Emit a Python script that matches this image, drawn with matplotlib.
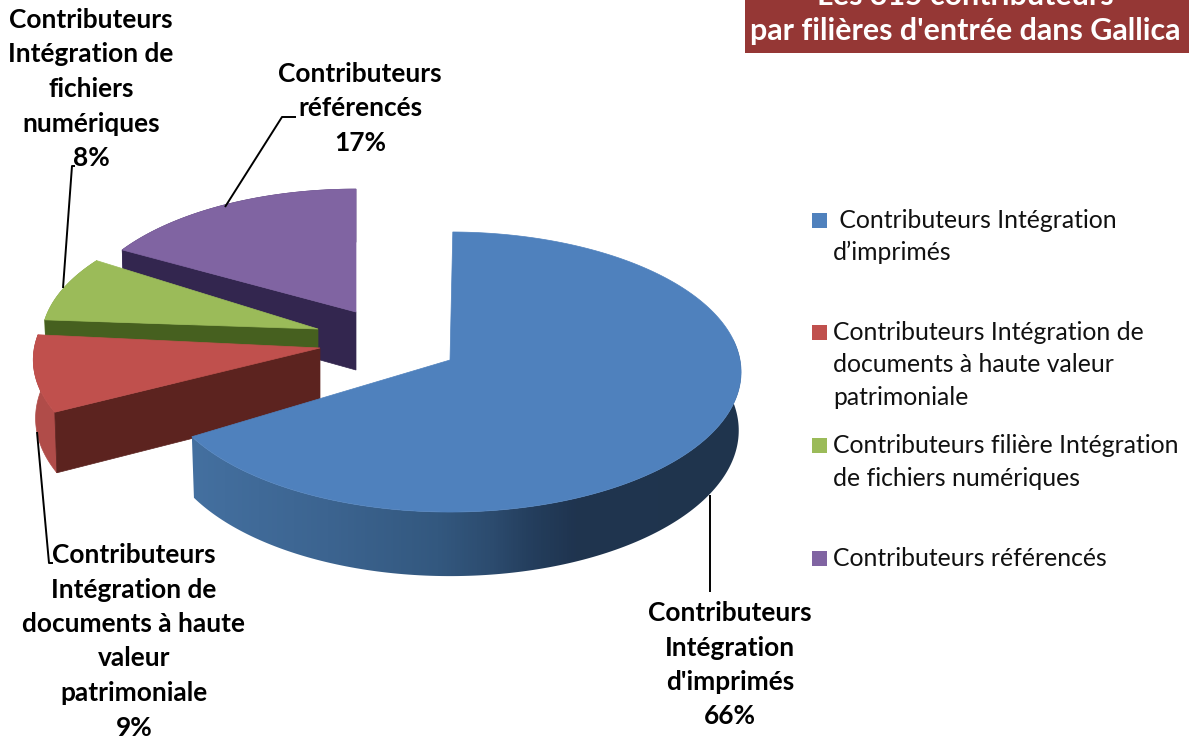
import matplotlib
matplotlib.use("Agg")
import matplotlib.pyplot as plt
import numpy as np
from matplotlib.colors import LinearSegmentedColormap
from matplotlib.patches import Polygon, Rectangle

# chart values
shares = [66, 9, 8, 17]
data_labels = [
    ["Contributeurs", "Intégration", "d'imprimés", "66%"],
    ["Contributeurs", "Intégration de", "documents à haute", "valeur", "patrimoniale", "9%"],
    ["Contributeurs", "Intégration de", "fichiers", "numériques", "8%"],
    ["Contributeurs", "référencés", "17%"],
]
legend_labels = [
    [" Contributeurs Intégration", "d’imprimés"],
    ["Contributeurs Intégration de", "documents à haute valeur", "patrimoniale"],
    ["Contributeurs filière Intégration", "de fichiers numériques"],
    ["Contributeurs référencés"],
]
title_lines = ["Les 315 contributeurs", "par filières d'entrée dans Gallica"]

# look of the slices, same order as shares
top_colors = ["#4f81bd", "#c0504d", "#9bbb59", "#8064a2"]
cut_colors = [None, "#5c231f", "#46601f", "#33264f"]
rim_colors = [None, "#b04c49", "#8aa850", "#5b4678"]
apexes = [(450, 360), (320, 348), (318, 329), (356, 312)]
radius_scale = [1.0, 0.985, 0.95, 0.96]
angle_turn = [0.6, 5.6, 4.0, 0.2]

label_x = [730, 134, 91, 360]
label_base = [621, 563, 28, 82]
legend_base = [228, 340, 453, 566]

# tilted disc in perspective, pixel units
R, Q, K = 290.0, 139.0, 0.0857
DEPTH = 58.0

blue_rim = LinearSegmentedColormap.from_list(
    "blue_rim",
    [(0, "#4470a0"), (0.25, "#3c6490"), (0.45, "#33587f"), (0.55, "#2c4b6e"),
     (0.62, "#243e5d"), (0.7, "#1f344f"), (1, "#1f344d")],
)


def top_xy(apex, scale, t):
    t = np.radians(t)
    x, y = np.sin(t), np.cos(t)
    w = 1 + K * y
    return apex[0] + scale * R * x / w, apex[1] - scale * Q * y / w


def low_xy(apex, scale, t):
    t = np.radians(t)
    x, y = np.sin(t), np.cos(t)
    w = 1 + K * y
    return (apex[0] + 0.992 * scale * R * x / w,
            apex[1] + DEPTH - 1.04 * scale * Q * y / w)


plt.rcParams["font.family"] = ["Lato", "DejaVu Sans"]
fig = plt.figure(figsize=(11.89, 7.42), dpi=100)
ax = fig.add_axes([0, 0, 1, 1])

# slice angles
cum = np.concatenate([[0], np.cumsum(shares)]) / np.sum(shares) * 360
starts = cum[:-1] + np.array(angle_turn)
ends = cum[1:] + np.array(angle_turn)
ends[-1] = min(ends[-1], 360)

# back to front
z = 1
for i in [3, 2, 1, 0]:
    apex, scale = apexes[i], radius_scale[i]
    ts = np.linspace(starts[i], ends[i], 240)
    tx, ty = top_xy(apex, scale, ts)

    # outer rim, only the part that faces the viewer matters
    front = ts[ts >= 80] if i == 0 else ts
    fx, fy = top_xy(apex, scale, front)
    lx, ly = low_xy(apex, scale, front)
    rim = np.vstack([np.column_stack([fx, fy]), np.column_stack([lx, ly])[::-1]])
    if i == 0:
        patch = Polygon(rim, closed=True, fc="none", ec="none", zorder=z)
        ax.add_patch(patch)
        img = ax.imshow(np.linspace(0, 1, 552)[None, :], cmap=blue_rim, aspect="auto",
                        extent=[190, 742, 600, 340], zorder=z)
        img.set_clip_path(patch)
    else:
        ax.add_patch(Polygon(rim, closed=True, fc=rim_colors[i], ec=rim_colors[i], lw=0.5, zorder=z))
    z += 1

    if cut_colors[i]:
        bx, by = low_xy(apex, scale, ts[0])
        ax.add_patch(Polygon([apex, (tx[0], ty[0]), (bx, by), (apex[0], apex[1] + DEPTH)],
                             closed=True, fc=cut_colors[i], ec=cut_colors[i], lw=0.5, zorder=z))
        z += 1
    ax.add_patch(Polygon(np.vstack([[apex], np.column_stack([tx, ty])]),
                         closed=True, fc=top_colors[i], ec=top_colors[i], lw=0.5, zorder=z))
    z += 1

ax.set_xlim(0, 1189)
ax.set_ylim(742, 0)
ax.axis("off")

# leader lines
leaders = [
    ([710, 710], [495, 592]),
    ([37, 49, 53], [432, 563, 563]),
    ([63, 72, 75], [288, 166, 166]),
    ([225, 282, 296], [207, 117, 117]),
]
for xs, ys in leaders:
    ax.plot(xs, ys, color="black", lw=1.4, solid_capstyle="butt", zorder=z)

# data labels
for i, lines in enumerate(data_labels):
    for j, line in enumerate(lines):
        ax.text(label_x[i], label_base[i] + j * 34.5, line, ha="center", va="baseline",
                fontsize=18.9, fontweight="bold", color="black", zorder=z + 1)

# legend
for i, lines in enumerate(legend_labels):
    ax.add_patch(Rectangle((812, legend_base[i] - 15), 15, 15, fc=top_colors[i], ec="none"))
    for j, line in enumerate(lines):
        ax.text(833, legend_base[i] + j * 32.5, line, ha="left", va="baseline",
                fontsize=17.8, color="#111111")

# title box, its first line runs off the top of the picture
ax.add_patch(Rectangle((745, 0), 444, 53, fc="#953735", ec="none", zorder=z))
ax.text(965, 40, title_lines[1], ha="center", va="baseline", fontsize=21.9,
        fontweight="bold", color="white", zorder=z + 1)
ax.text(965, 5, title_lines[0], ha="center", va="baseline", fontsize=21.9,
        fontweight="bold", color="white", zorder=z + 1)

fig.savefig("out.png", dpi=100)
